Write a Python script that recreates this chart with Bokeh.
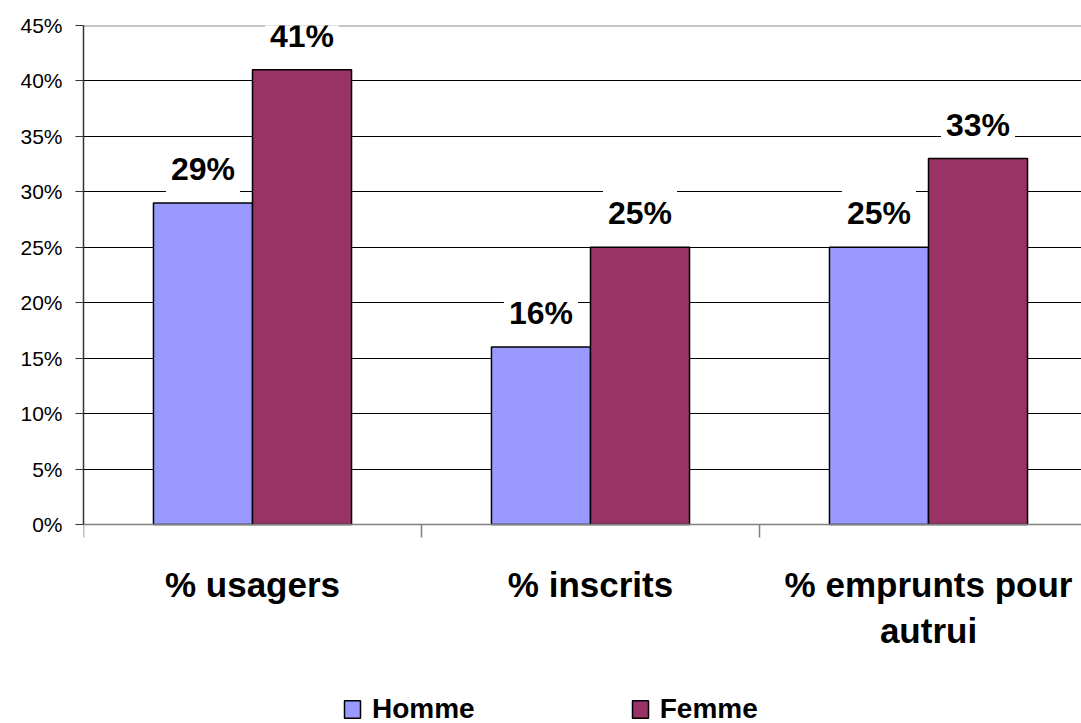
from bokeh.plotting import figure
from bokeh.models import (ColumnDataSource, FixedTicker, NumeralTickFormatter, Range1d,
                          Span, Legend, LegendItem)
from bokeh.core.properties import value
from bokeh.transform import dodge
from bokeh.embed import file_html
from bokeh.resources import INLINE

categories = ["% usagers", "% inscrits", "% emprunts pour\nautrui"]
homme = [0.29, 0.16, 0.25]
femme = [0.41, 0.25, 0.33]
homme_labels = ["29%", "16%", "25%"]
femme_labels = ["41%", "25%", "33%"]
y_ticks = [0, 0.05, 0.10, 0.15, 0.20, 0.25, 0.30, 0.35, 0.40, 0.45]

FONT = "Liberation Sans"
HOMME_COLOR = "#9999FF"
FEMME_COLOR = "#993366"

W, H = 1081, 723
LEFT, TOP = 83, 25
ZERO_Y = 524          # pixel row of the 0% line
CAT_PX = 338          # pixel width of one category slot

ymax = y_ticks[-1]
ymin = -(H - ZERO_Y) / (ZERO_Y - TOP) * ymax

xc = [i + 0.5 for i in range(len(categories))]
src = ColumnDataSource(data=dict(x=xc, homme=homme, femme=femme,
                                 hl=homme_labels, fl=femme_labels))

p = figure(width=W, height=H, output_backend="svg", toolbar_location=None,
           x_range=Range1d(0, (W - LEFT) / CAT_PX), y_range=Range1d(ymin, ymax),
           min_border_left=LEFT, min_border_right=0, min_border_top=TOP,
           min_border_bottom=0)
p.outline_line_color = None
p.background_fill_color = "white"

top_line = Span(location=ymax, dimension="width", line_color="#8c8c8c",
                line_width=2, level="underlay")
p.add_layout(top_line)

bw = 0.293
off = bw / 2
rh = p.vbar(x=dodge("x", -off), top="homme", width=bw, source=src,
            fill_color=HOMME_COLOR, line_color="black", line_width=1.5)
rf = p.vbar(x=dodge("x", off), top="femme", width=bw, source=src,
            fill_color=FEMME_COLOR, line_color="black", line_width=1.5)

# grid
p.xgrid.visible = False
p.ygrid.ticker = FixedTicker(ticks=y_ticks[1:-1])
p.ygrid.grid_line_color = "black"
p.ygrid.grid_line_width = 1

# y axis
p.yaxis.ticker = FixedTicker(ticks=y_ticks)
p.yaxis.bounds = (y_ticks[0], ymax)
p.yaxis.formatter = NumeralTickFormatter(format="0%")
p.yaxis.major_label_text_font = FONT
p.yaxis.major_label_text_font_size = "21px"
p.yaxis.major_label_text_color = "black"
p.yaxis.major_tick_out = 8
p.yaxis.major_tick_in = 0
p.yaxis.minor_tick_line_color = None
p.yaxis.axis_line_color = "#333333"
p.yaxis.axis_line_width = 1.5
p.yaxis.major_tick_line_color = "#333333"
p.yaxis.major_label_standoff = 13

# x axis (at the 0% line)
p.xaxis.fixed_location = 0
p.xaxis.ticker = FixedTicker(ticks=xc, minor_ticks=[0, 1, 2, 3])
p.xaxis.major_label_overrides = {x: c for x, c in zip(xc, categories)}
p.xaxis.major_tick_line_color = None
p.xaxis.major_tick_out = 0
p.xaxis.major_tick_in = 0
p.xaxis.minor_tick_out = 13
p.xaxis.minor_tick_in = 0
p.xaxis.minor_tick_line_color = "#808080"
p.xaxis.minor_tick_line_width = 1.5
p.xaxis.axis_line_color = "#808080"
p.xaxis.axis_line_width = 1.5
p.xaxis.major_label_text_font = FONT
p.xaxis.major_label_text_font_style = "bold"
p.xaxis.major_label_text_font_size = "35px"
p.xaxis.major_label_text_color = "black"
p.xaxis.major_label_standoff = 27

# data labels
for col, lab, o in (("homme", "hl", -off), ("femme", "fl", off)):
    p.text(x=dodge("x", o), y=col, text=lab, source=src,
           text_align="center", text_baseline="alphabetic", y_offset=-34,
           text_font=value(FONT), text_font_style="bold", text_font_size="32px",
           text_color="black", background_fill_color="white", padding=5)

legend = Legend(items=[LegendItem(label="Homme", renderers=[rh]),
                       LegendItem(label="Femme", renderers=[rf])],
                orientation="horizontal", location=(342 - LEFT, -2),
                label_text_font=FONT, label_text_font_style="bold",
                label_text_font_size="28px", label_text_color="black",
                glyph_width=20, glyph_height=22, label_standoff=10, spacing=155,
                border_line_color=None, background_fill_alpha=0, padding=0, margin=0)
p.add_layout(legend, "center")

open("out.html", "w").write(file_html(p, INLINE))
